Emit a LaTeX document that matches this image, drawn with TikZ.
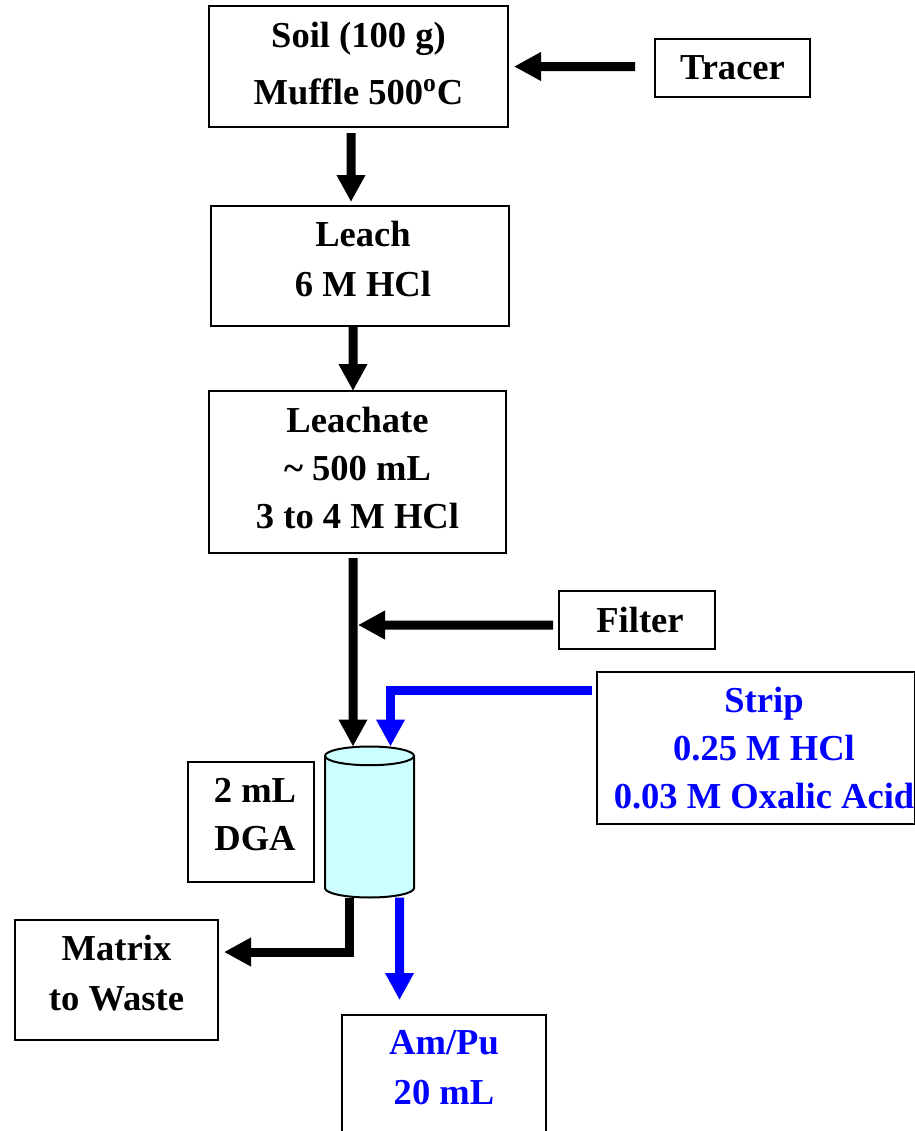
\documentclass[tikz,border=0pt]{standalone}
\usepackage{fontspec}
\setmainfont{Liberation Serif}
\usepackage{tikz}
\usetikzlibrary{positioning,arrows.meta,shapes.geometric}
\definecolor{columnfill}{RGB}{204,255,255}
\tikzset{
  flowarrow/.style={-{Triangle[length=5.4mm,width=5.4mm]}, line width=1.8mm},
  blueflow/.style={flowarrow, blue},
  procbox/.style={draw, line width=0.4mm, fill=white, outer sep=0pt, inner sep=0pt, align=center, font=\fontsize{20.8}{27.3}\selectfont\bfseries},
  stripbox/.style={procbox, text=blue}
}

\begin{document}
\begin{tikzpicture}
  \useasboundingbox (0,0) rectangle (18.3,-22.62);
  \node[procbox, minimum width=5.98cm, minimum height=2.42cm, text depth=1.2mm] (soil) at (7.17,-1.33) {Soil (100 g)\\[5pt] Muffle 500\textsuperscript{o}C};
  \node[procbox, minimum width=3.1cm, minimum height=1.16cm] (tracer) at (14.65,-1.36) {Tracer};
  \node[procbox, minimum width=5.96cm, minimum height=2.4cm, text depth=3mm] (leach) at (7.2,-5.32) {\hspace*{1.2mm}Leach\\[1pt] \hspace*{1.2mm}6 M HCl};
  \node[procbox, minimum width=5.94cm, minimum height=3.24cm, text depth=1.6mm] (leachate) at (7.15,-9.44) {Leachate\\ \textasciitilde{} 500 mL\\ 3 to 4 M HCl};
  \node[procbox, minimum width=3.12cm, minimum height=1.16cm] (filter) at (12.74,-12.4) {\hspace*{1.2mm}Filter};
  \node[stripbox, minimum width=6.36cm, minimum height=3.04cm] (strip) at (15.12,-14.96) {\hspace*{3.2mm}Strip\\ \hspace*{3.2mm}0.25 M HCl\\ \hspace*{3.2mm}0.03 M Oxalic Acid};
  \node[procbox, minimum width=2.52cm, minimum height=2.4cm, text depth=3mm] (dga) at (5.02,-16.44) {\hspace*{1.6mm}2 mL\\ \hspace*{1.6mm}DGA};
  \node[draw, line width=0.4mm, cylinder, shape border rotate=90, aspect=1.6, outer sep=0pt, minimum width=1.78cm, minimum height=3.02cm, cylinder uses custom fill, cylinder body fill=columnfill, cylinder end fill=columnfill] (column) at (7.39,-16.59) {};
  \node[procbox, minimum width=4.06cm, minimum height=2.4cm, text depth=3mm] (waste) at (2.33,-19.6) {Matrix\\[1pt] to Waste};
  \node[stripbox, minimum width=4.08cm, minimum height=2.4cm, text depth=3mm] (ampu) at (8.88,-21.5) {Am/Pu\\[1pt] 20 mL};
  \coordinate (filterin) at (7.16,-12.5);

  \draw[flowarrow, shorten <=1.2mm, shorten >=0.8mm] ([xshift=-1.5mm]soil.south) -- ([xshift=-1.8mm]leach.north);
  \draw[flowarrow, shorten <=4mm, shorten >=1.2mm] ([yshift=0.3mm]tracer.west) -- (soil.east);
  \draw[flowarrow] ([xshift=-1.4mm]leach.south) -- ([xshift=-0.9mm]leachate.north);
  \draw[flowarrow, shorten <=1mm] ([xshift=-0.9mm]leachate.south) -- ([xshift=-3.3mm]column.north);
  \draw[flowarrow, shorten <=1.2mm] ([yshift=-1mm]filter.west) -- (filterin);
  \draw[blueflow, shorten <=1mm] ([yshift=11.6mm]strip.west) -| ([xshift=4.2mm]column.north);
  \draw[flowarrow, shorten >=1.2mm] ([xshift=-4.1mm]column.south) |- ([yshift=5.6mm]waste.east);
  \draw[blueflow, shorten >=3mm] ([xshift=6mm]column.south) -- ([xshift=-8.9mm]ampu.north);
\end{tikzpicture}
\end{document}
